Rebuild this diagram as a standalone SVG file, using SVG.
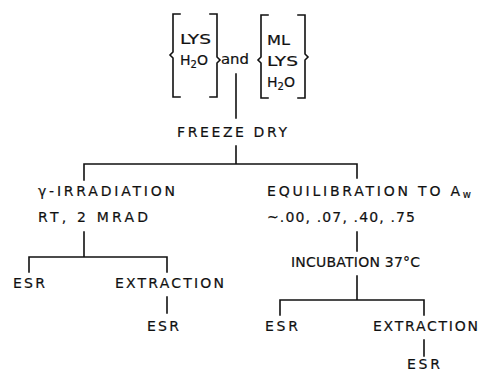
<svg xmlns="http://www.w3.org/2000/svg" width="483" height="373" viewBox="0 0 483 373">
<style>
text{font-family:"DejaVu Sans","Liberation Sans",sans-serif;font-size:14px;fill:#111;stroke:#111;stroke-width:0.2;}
.sub{font-size:10px;}
.ln{stroke:#111;stroke-width:1.6;fill:none;stroke-linecap:square;}
</style>
<rect width="483" height="373" fill="#fff"/>
<g id="connectors">
<path class="ln" d="M236,74 V118"/>
<path class="ln" d="M236,146 V164 M84,180 V164 H357 V178"/>
<path class="ln" d="M84,232 V257 M29,272 V257 H167 V272"/>
<path class="ln" d="M167,297 V313"/>
<path class="ln" d="M357,232 V251"/>
<path class="ln" d="M357,276 V300 M280,315 V300 H424 V315"/>
<path class="ln" d="M424,340 V356"/>
</g>
<g id="lys-h2o">
<path class="ln" d="M180,14 H173 V52 L170,55 L173,58 V97 H180"/>
<path class="ln" d="M210,14 H217 V57 L220,60 L217,63 V97 H210"/>
<text x="180" y="44" textLength="31" lengthAdjust="spacingAndGlyphs">LYS</text>
<text x="180" y="65">H<tspan class="sub" dy="3">2</tspan><tspan dy="-3">O</tspan></text>
</g>
<g id="and"><text x="221" y="64" textLength="28" lengthAdjust="spacingAndGlyphs">and</text></g>
<g id="ml-lys-h2o">
<path class="ln" d="M268,15 H261 V57 L258,60 L261,63 V98 H268"/>
<path class="ln" d="M298,15 H305 V54 L308,57 L305,60 V98 H298"/>
<text x="267" y="45" textLength="23" lengthAdjust="spacingAndGlyphs">ML</text>
<text x="267" y="66" textLength="31" lengthAdjust="spacingAndGlyphs">LYS</text>
<text x="267" y="87">H<tspan class="sub" dy="3">2</tspan><tspan dy="-3">O</tspan></text>
</g>
<g id="freeze-dry"><text x="177" y="137" textLength="110" lengthAdjust="spacing">FREEZE DRY</text></g>
<g id="irradiation">
<text x="38" y="196" textLength="137" lengthAdjust="spacing">γ-IRRADIATION</text>
<text x="38" y="222" textLength="110" lengthAdjust="spacing">RT, 2 MRAD</text>
</g>
<g id="equilibration">
<text x="267" y="196"><tspan textLength="193" lengthAdjust="spacing">EQUILIBRATION TO A</tspan><tspan class="sub" dy="2">w</tspan></text>
<text x="267" y="222" textLength="148" lengthAdjust="spacing">~.00, .07, .40, .75</text>
</g>
<g id="esr-1"><text x="13" y="288" textLength="32" lengthAdjust="spacing">ESR</text></g>
<g id="extraction-1"><text x="115" y="288" textLength="109" lengthAdjust="spacing">EXTRACTION</text></g>
<g id="esr-2"><text x="147" y="331" textLength="32" lengthAdjust="spacing">ESR</text></g>
<g id="incubation"><text x="291" y="267" textLength="129" lengthAdjust="spacing">INCUBATION 37°C</text></g>
<g id="esr-3"><text x="265" y="331" textLength="33" lengthAdjust="spacing">ESR</text></g>
<g id="extraction-2"><text x="373" y="331" textLength="105" lengthAdjust="spacing">EXTRACTION</text></g>
<g id="esr-4"><text x="407" y="369" textLength="33" lengthAdjust="spacing">ESR</text></g>
</svg>
